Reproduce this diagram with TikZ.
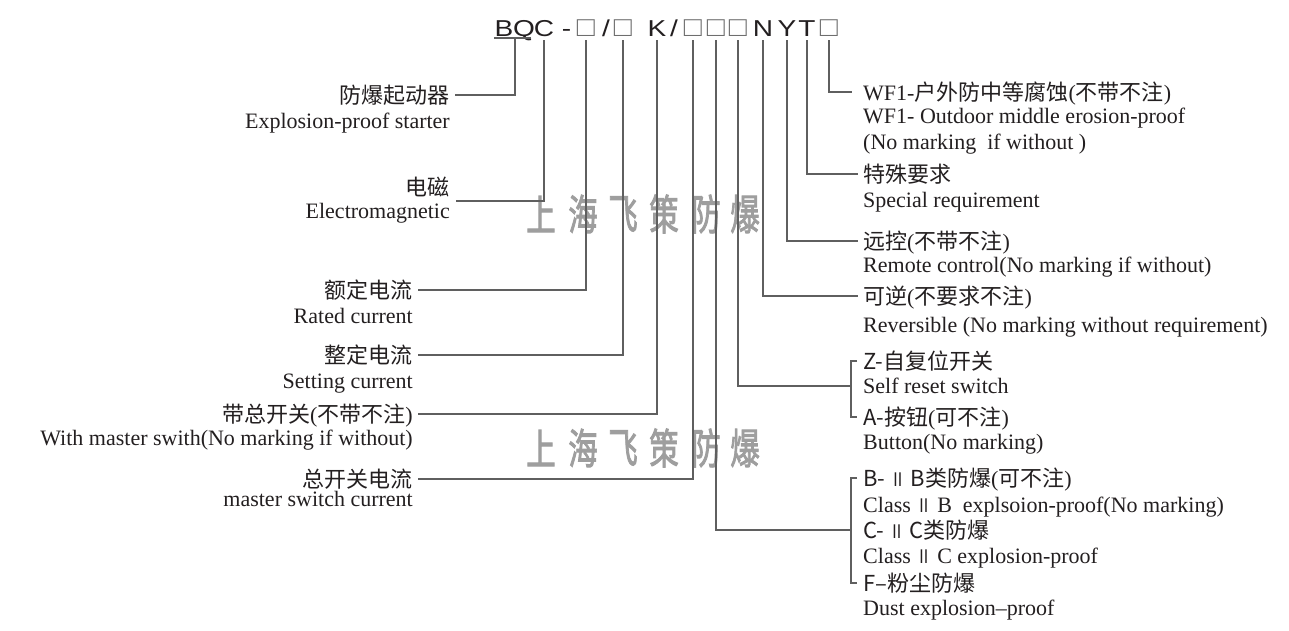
\documentclass[tikz,border=0pt]{standalone}
\usepackage{fontspec}
\setmainfont{Liberation Serif}
\newfontfamily\cjk{Noto Sans CJK SC}
\newfontfamily\wmfont{Noto Sans CJK SC}[FakeBold=2.5]
\newfontfamily\hdrfont{Liberation Sans}
\usetikzlibrary{calc}
\definecolor{ln}{RGB}{95,95,95}
\definecolor{tx}{RGB}{35,31,32}
\definecolor{wmc}{RGB}{158,158,158}
\definecolor{sqc}{RGB}{110,110,110}
\newcommand\hs[1]{\scalebox{1.22}[1]{#1}}
\newcommand\hsq{\textcolor{sqc}{\scalebox{1.3}[1.22]{□}}}
\newcommand\zh[1]{{\cjk #1}}
\newcommand\rn{{\cjk\scalebox{0.7}[0.85]{Ⅱ}}}
\begin{document}
\begin{tikzpicture}[x=1pt,y=-1pt,
 conn/.style={draw=ln,line width=1.1pt},
 hch/.style={inner sep=0pt,text depth=4pt,anchor=base,font=\hdrfont\fontsize{23}{24}\selectfont,text=tx},
 cn/.style={inner xsep=5pt,inner ysep=0pt,text height=19pt,text depth=2.2pt,font=\fontsize{22}{26}\selectfont,text=tx},
 en/.style={inner xsep=5pt,inner ysep=0pt,font=\fontsize{22}{26}\selectfont,text=tx},
 wmk/.style={inner sep=0pt,text=wmc,font=\wmfont\fontsize{42}{42}\selectfont}
]
\useasboundingbox[fill=white] (0,0) rectangle (1289,630);

% header
\node[hch] (hB) at (504,36) {\hs{B}};
\node[hch] (hQ) at (524,36) {\hs{Q}};
\node[hch] (hC) at (544,36) {\hs{C}};
\node[hch] (hD) at (566.5,36) {\hs{-}};
\node[hch] (hS1) at (586,36) {\hsq};
\node[hch] (hL1) at (606,36) {\hs{/}};
\node[hch] (hS2) at (623,36) {\hsq};
\node[hch] (hK) at (657,36) {\hs{K}};
\node[hch] (hL2) at (674,36) {\hs{/}};
\node[hch] (hS3) at (693,36) {\hsq};
\node[hch] (hS4) at (716,36) {\hsq};
\node[hch] (hS5) at (738,36) {\hsq};
\node[hch] (hN) at (763,36) {\hs{N}};
\node[hch] (hY) at (787,36) {\hs{Y}};
\node[hch] (hT) at (807,36) {\hs{T}};
\node[hch] (hS6) at (829,36) {\hsq};
\coordinate (ul) at (515,38);

% watermarks
\foreach \c/\x [count=\i] in {上/541,海/583,飞/623,策/664,防/706,爆/745}{
  \node[wmk] (wa\i) at (\x,214) {\scalebox{0.7}[1]{\c}};
  \node[wmk] (wb\i) at (\x,448) {\scalebox{0.7}[1]{\c}};
}

% left labels
\node[cn,anchor=east] (L1) at (455,95) {\zh{防爆起动器}};
\node[en,anchor=base east] (E1) at (455,128) {Explosion-proof starter};
\node[cn,anchor=east] (L2) at (455,187) {\zh{电磁}};
\node[en,anchor=base east] (E2) at (455,218) {Electromagnetic};
\coordinate (em) at (456,201);
\node[cn,anchor=east] (L3) at (418,290) {\zh{额定电流}};
\node[en,anchor=base east] (E3) at (418,323) {Rated current};
\node[cn,anchor=east] (L4) at (418,355) {\zh{整定电流}};
\node[en,anchor=base east] (E4) at (418,388) {Setting current};
\node[cn,anchor=east] (L5) at (418,414) {\zh{带总开关}(\zh{不带不注})};
\node[en,anchor=base east] (E5) at (418,445) {With master swith(No marking if without)};
\node[cn,anchor=east] (L6) at (418,479) {\zh{总开关电流}};
\node[en,anchor=base east] (E6) at (418,506) {master switch current};

% right labels
\node[cn,anchor=west,inner xsep=11pt] (RWF) at (852,92) {WF1-\zh{户外防中等腐蚀}(\zh{不带不注})};
\node[en,anchor=base west] (EWF1) at (858,123) {WF1- Outdoor middle erosion-proof};
\node[en,anchor=base west] (EWF2) at (858,149) {(No marking\ \ if without )};
\node[cn,anchor=west] (RSp) at (858,174) {\zh{特殊要求}};
\node[en,anchor=base west] (ESp) at (858,207) {Special requirement};
\node[cn,anchor=west] (RRem) at (858,241) {\zh{远控}(\zh{不带不注})};
\node[en,anchor=base west] (ERem) at (858,272) {Remote control(No marking if without)};
\node[cn,anchor=west] (RRev) at (858,296) {\zh{可逆}(\zh{不要求不注})};
\node[en,anchor=base west] (ERev) at (858,332) {Reversible (No marking without requirement)};
\node[cn,anchor=west,inner xsep=6pt] (RZ) at (857,361) {\zh{Z-自复位开关}};
\node[en,anchor=base west] (EZ) at (858,393) {Self reset switch};
\node[cn,anchor=west,inner xsep=6pt] (RA) at (857,417) {\zh{A-按钮}(\zh{可不注})};
\node[en,anchor=base west] (EA) at (858,449) {Button(No marking)};
\node[cn,anchor=west,inner xsep=6pt] (RB) at (857,478) {\zh{B- }\rn\zh{ B类防爆}(\zh{可不注})};
\node[en,anchor=base west] (EB) at (858,512) {Class \rn\ B\ \ explsoion-proof(No marking)};
\node[cn,anchor=west,inner xsep=6pt] (RC) at (857,530) {\zh{C- }\rn\zh{ C类防爆}};
\node[en,anchor=base west] (EC) at (858,563) {Class \rn\ C explosion-proof};
\node[cn,anchor=west,inner xsep=6pt] (RF) at (857,583) {\zh{F–粉尘防爆}};
\node[en,anchor=base west] (EF) at (858,615) {Dust explosion–proof};
\coordinate (brZA) at ($(RZ.west)!0.5!(RA.west)+(-6,-3)$);

% connectors
\draw[conn] ([yshift=-2pt]hB.base west) -- ([yshift=-2pt,xshift=-4pt]hQ.base east);
\draw[conn] (ul) |- (L1.east);
\draw[conn] (hC.south) |- (em);
\draw[conn] (hS1.south) |- (L3.east);
\draw[conn] (hS2.south) |- (L4.east);
\draw[conn] (hK.south) |- (L5.east);
\draw[conn] (hS3.south) |- (L6.east);
\draw[conn] (hS4.south) |- ([xshift=-6pt]RC.west);
\draw[conn] (RB.west) -- ++(-6,0) |- (RF.west);
\draw[conn] (hS5.south) |- (brZA);
\draw[conn] (RZ.west) -- ++(-6,0) |- (RA.west);
\draw[conn] (hN.south) |- (RRev.west);
\draw[conn] (hY.south) |- (RRem.west);
\draw[conn] (hT.south) |- (RSp.west);
\draw[conn] (hS6.south) |- (RWF.west);
\end{tikzpicture}
\end{document}
